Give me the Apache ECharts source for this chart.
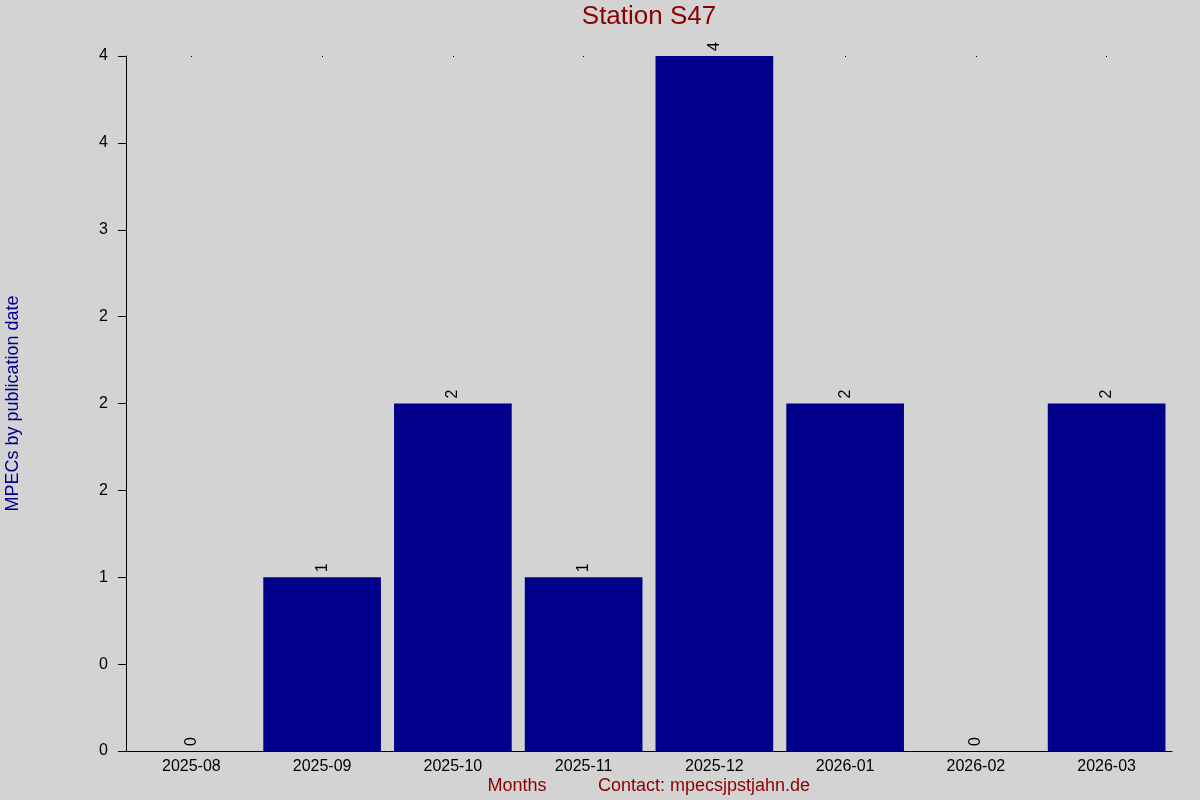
<!DOCTYPE html>
<html>
<head>
<meta charset="utf-8">
<title>Station S47</title>
<script src="https://cdn.jsdelivr.net/npm/echarts@6/dist/echarts.min.js"></script>
<style>
    html, body { margin: 0; padding: 0; background: #d3d3d3; }
    #chart { width: 1200px; height: 800px; }
</style>
</head>
<body>
<div id="chart"></div>
<script>
var months = ['2025-08', '2025-09', '2025-10', '2025-11', '2025-12', '2026-01', '2026-02', '2026-03'];
var mpecCounts = [0, 1, 2, 1, 4, 2, 0, 2];
// y ticks every 0.5, printed rounded like the original
var yTickLabels = ['0', '0', '1', '2', '2', '2', '3', '4', '4'];

var font = 'Liberation Sans, Arial, sans-serif';
var darkRed = '#8b0000';
var darkBlue = '#00008b';

var chart = echarts.init(document.getElementById('chart'));

var option = {
    backgroundColor: '#d3d3d3',
    animation: false,
    textStyle: { fontFamily: font },
    grid: { left: 126, right: 28, top: 56, bottom: 49, containLabel: false, outerBoundsMode: 'none' },
    graphic: [
        {
            type: 'text', x: 649, y: 17,
            style: { text: 'Station S47', fill: darkRed, font: '26px ' + font, align: 'center', verticalAlign: 'middle' }
        },
        {
            type: 'text', x: 517, y: 786,
            style: { text: 'Months', fill: darkRed, font: '18px ' + font, align: 'center', verticalAlign: 'middle' }
        },
        {
            type: 'text', x: 598, y: 786,
            style: { text: 'Contact: mpecsjpstjahn.de', fill: darkRed, font: '18px ' + font, align: 'left', verticalAlign: 'middle' }
        }
    ],
    xAxis: [
        {
            type: 'category',
            data: months,
            axisLine: { lineStyle: { color: '#000', width: 1 } },
            axisTick: { show: false },
            axisLabel: { color: '#000', fontSize: 16, margin: 8, fontFamily: font }
        },
        {
            type: 'category',
            data: months,
            position: 'top',
            axisLine: { show: false },
            axisTick: { show: true, inside: true, length: 1, alignWithLabel: true, lineStyle: { color: '#000' } },
            axisLabel: { show: false }
        }
    ],
    yAxis: {
        type: 'value',
        min: 0,
        max: 4,
        interval: 0.5,
        name: 'MPECs by publication date',
        nameLocation: 'middle',
        nameGap: 104,
        nameTextStyle: { color: darkBlue, fontSize: 18, fontFamily: font },
        splitLine: { show: false },
        axisLine: { show: true, lineStyle: { color: '#000', width: 1 } },
        axisTick: { show: true, length: 8, lineStyle: { color: '#000' } },
        axisLabel: {
            color: '#000', fontSize: 16, margin: 18, fontFamily: font,
            formatter: function (v) {
                return yTickLabels[Math.round(v / 0.5)];
            }
        }
    },
    series: [
        {
            type: 'bar',
            data: mpecCounts,
            barCategoryGap: '10%',
            itemStyle: { color: darkBlue },
            label: {
                show: true,
                position: 'top',
                rotate: 90,
                align: 'left',
                verticalAlign: 'middle',
                distance: 5,
                color: '#000',
                fontSize: 16,
                fontFamily: font
            }
        }
    ]
};

chart.setOption(option);
</script>
</body>
</html>
